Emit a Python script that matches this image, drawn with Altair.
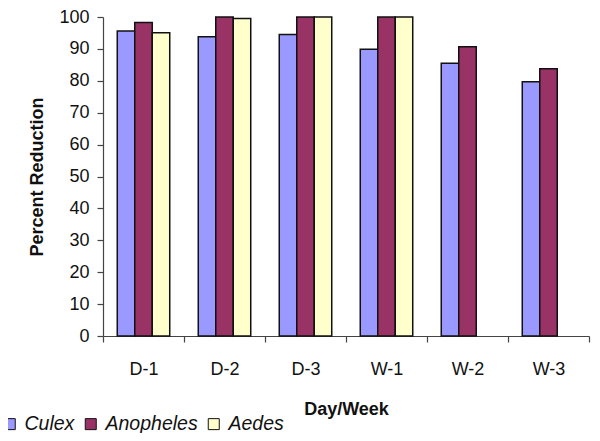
import altair as alt
import pandas as pd

periods = ["D-1", "D-2", "D-3", "W-1", "W-2", "W-3"]
species = ["Culex", "Anopheles", "Aedes"]
culex = [95.6, 93.8, 94.5, 89.9, 85.5, 79.7]
anopheles = [98.3, 100, 100, 100, 90.7, 83.8]
aedes = [95.1, 99.5, 100, 100, None, None]
colors = ["#9999FF", "#993366", "#FFFFCC"]

rows = []
for sp, vals in zip(species, [culex, anopheles, aedes]):
    for p, v in zip(periods, vals):
        if v is not None:
            rows.append({"Period": p, "Species": sp, "Value": v})
df = pd.DataFrame(rows)

FONT = "Liberation Sans"

chart = alt.Chart(df).mark_bar(stroke="#111111", strokeWidth=1.5).encode(
    x=alt.X("Period:N", sort=periods,
            scale=alt.Scale(paddingInner=0, paddingOuter=0),
            axis=alt.Axis(title="Day/Week", labelAngle=0, tickBand="extent",
                          tickSize=6, labelPadding=18, titlePadding=22,
                          labelFontSize=18, titleFontSize=18)),
    xOffset=alt.XOffset("Species:N", sort=species,
                        scale=alt.Scale(domain=species, paddingInner=0, paddingOuter=0.815)),
    y=alt.Y("Value:Q",
            scale=alt.Scale(domain=[0, 100], nice=False),
            axis=alt.Axis(title="Percent Reduction", values=list(range(0, 101, 10)),
                          tickSize=6, labelPadding=8, titlePadding=12,
                          labelFontSize=18, titleFontSize=18, grid=False)),
    color=alt.Color("Species:N", sort=species,
                    scale=alt.Scale(domain=species, range=colors),
                    legend=alt.Legend(title=None, orient="none", direction="horizontal",
                                      legendX=-103, legendY=397,
                                      symbolType="square", symbolSize=121,
                                      symbolStrokeColor="#111111", symbolStrokeWidth=1,
                                      labelFontSize=19.5, labelFontStyle="italic",
                                      labelOffset=5, columnPadding=6,
                                      labelColor="#111111", labelFont=FONT)),
).properties(
    width=486, height=319,
    padding={"left": 95, "top": 9, "right": 3, "bottom": 97},
    autosize=alt.AutoSizeParams(type="none"),
).configure_view(stroke=None).configure_axis(
    labelFont=FONT, titleFont=FONT, labelColor="#111111", titleColor="#111111",
    domainColor="#444444", tickColor="#444444", titleFontWeight="bold",
    domainWidth=1.2, tickWidth=1.2,
)

chart.save("out.html", embed_options={"renderer": "svg", "actions": False})
